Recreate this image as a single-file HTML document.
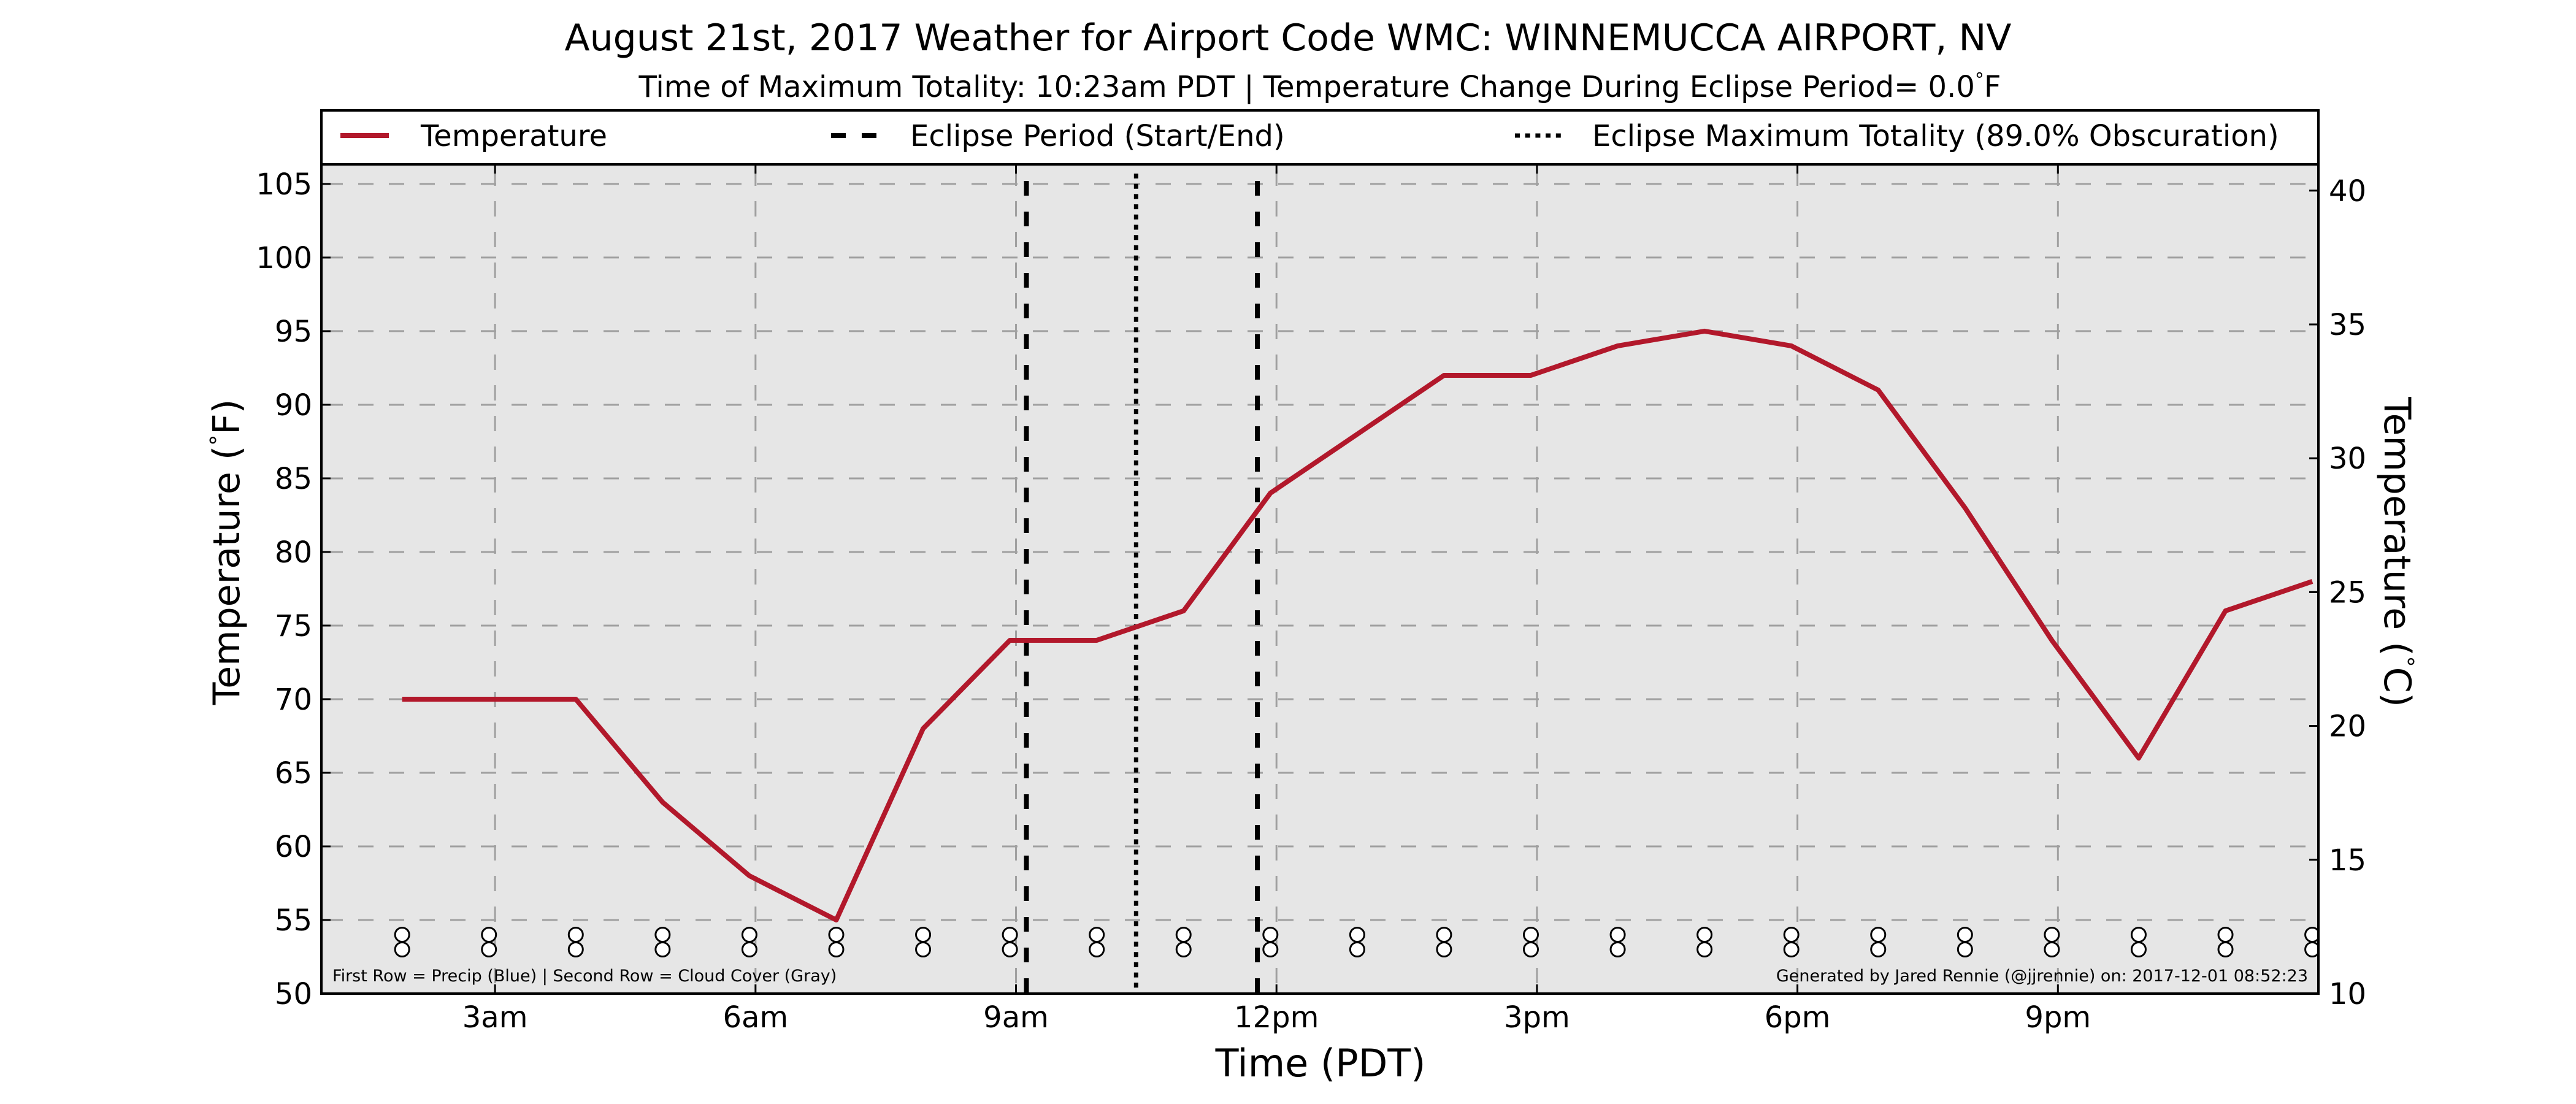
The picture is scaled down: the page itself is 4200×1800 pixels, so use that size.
<!DOCTYPE html>
<html><head><meta charset="utf-8"><style>
html,body{margin:0;padding:0;background:#fff;}
svg{display:block;font-family:"DejaVu Sans","Liberation Sans",sans-serif;}
</style></head><body>
<svg id="chart" width="4200" height="1800" viewBox="0 0 4200 1800" xmlns="http://www.w3.org/2000/svg">
<rect x="0" y="0" width="4200" height="1800" fill="#fff"/>
<text x="2100" y="82" font-size="60" text-anchor="middle">August 21st, 2017 Weather for Airport Code WMC: WINNEMUCCA AIRPORT, NV</text>
<text x="2152" y="158" font-size="48" text-anchor="middle">Time of Maximum Totality: 10:23am PDT | Temperature Change During Eclipse Period= 0.0<tspan font-size="30" dy="-18">°</tspan><tspan dy="18">F</tspan></text>
<rect x="524" y="268" width="3256" height="1352" fill="#e6e6e6"/>
<g id="grid"></g>
<g id="eclipse"></g>
<g id="series"></g>
<g id="markers"></g>
<text x="542" y="1600" font-size="27">First Row = Precip (Blue) | Second Row = Cloud Cover (Gray)</text>
<text x="3763" y="1600" font-size="27" text-anchor="end">Generated by Jared Rennie (@jjrennie) on: 2017-12-01 08:52:23</text>
<rect x="524" y="268" width="3256" height="1352" fill="none" stroke="#000" stroke-width="4"/>
<g id="ticks"></g>
<g>
<rect x="524" y="180" width="3256" height="88" fill="#fff" stroke="#000" stroke-width="4"/>
<line x1="555" y1="221" x2="634" y2="221" stroke="#b2182b" stroke-width="8"/>
<text x="686" y="238" font-size="48">Temperature</text>
<line x1="1355" y1="221" x2="1430" y2="221" stroke="#000" stroke-width="8" stroke-dasharray="24,26"/>
<text x="1484" y="238" font-size="48">Eclipse Period (Start/End)</text>
<line x1="2470" y1="221" x2="2548" y2="221" stroke="#000" stroke-width="7" stroke-dasharray="8,8.7"/>
<text x="2596" y="238" font-size="48">Eclipse Maximum Totality (89.0% Obscuration)</text>
</g>
<text x="2153" y="1755" font-size="62" text-anchor="middle">Time (PDT)</text>
<text transform="translate(390,900) rotate(-90)" font-size="60" text-anchor="middle">Temperature (<tspan font-size="36" dy="-22">°</tspan><tspan dy="22">F)</tspan></text>
<text transform="translate(3888,900) rotate(90)" font-size="60" text-anchor="middle">Temperature (<tspan font-size="36" dy="-22">°</tspan><tspan dy="22">C)</tspan></text>
</svg>
<script>
const hours = [1.93,2.93,3.93,4.93,5.93,6.93,7.93,8.93,9.93,10.93,11.93,12.93,13.93,14.93,15.93,16.93,17.93,18.93,19.93,20.93,21.93,22.93,23.93];
const tempsF = [70,70,70,63,58,55,68,74,74,76,84,88,92,92,94,95,94,91,83,74,66,76,78];
const precipRow = [54,54,54,54,54,54,54,54,54,54,54,54,54,54,54,54,54,54,54,54,54,54,54];
const cloudRow = [53,53,53,53,53,53,53,53,53,53,53,53,53,53,53,53,53,53,53,53,53,53,53];
const xTickHours = [3,6,9,12,15,18,21];
const xTickLabels = ["3am","6am","9am","12pm","3pm","6pm","9pm"];
const yTicksF = [50,55,60,65,70,75,80,85,90,95,100,105];
const yTicksC = [10,15,20,25,30,35,40];
const eclipseStart = 9.12;
const eclipseEnd = 11.78;
const eclipseMax = 10.383;

const L=524,R=3780,T=268,B=1620;
const xMin=1,xMax=24,fMin=50,fMax=106.33,cMin=10,cMax=40.98;
function x(h){return L+(h-xMin)/(xMax-xMin)*(R-L);}
function yF(f){return B-(f-fMin)/(fMax-fMin)*(B-T);}
function yC(c){return B-(c-cMin)/(cMax-cMin)*(B-T);}
const NS="http://www.w3.org/2000/svg";
function mk(tag,attrs,parent){const e=document.createElementNS(NS,tag);for(const k in attrs)e.setAttribute(k,attrs[k]);parent.appendChild(e);return e;}
const grid=document.getElementById('grid'),ticks=document.getElementById('ticks'),ecl=document.getElementById('eclipse'),ser=document.getElementById('series'),mk2=document.getElementById('markers');

yTicksF.forEach((v)=>{
  const yy=yF(v);
  if(v>fMin){
    const g=mk('line',{x1:L,x2:R,y1:yy,y2:yy,stroke:'#a0a0a0','stroke-width':3,'stroke-dasharray':'25,25','stroke-dashoffset':'-10'},grid);
    
    
  }
  const t=mk('line',{x1:L,x2:L+15,y1:yy,y2:yy,stroke:'#000','stroke-width':3},ticks);
  
  
  const lb=mk('text',{x:509,y:yy+17,'font-size':48,'text-anchor':'end'},ticks);
  lb.textContent=v;
  
  
});
yTicksC.forEach((v)=>{
  const yy=yC(v);
  const t=mk('line',{x1:R-15,x2:R,y1:yy,y2:yy,stroke:'#000','stroke-width':3},ticks);
  
  
  const lb=mk('text',{x:3797,y:yy+17,'font-size':48},ticks);
  lb.textContent=v;
  
  
});
xTickHours.forEach((h,i)=>{
  const xx=x(h);
  const g=mk('line',{x1:xx,x2:xx,y1:T,y2:B,stroke:'#a0a0a0','stroke-width':3,'stroke-dasharray':'25,25','stroke-dashoffset':'-10'},grid);
  
  
  const t1=mk('line',{x1:xx,x2:xx,y1:B-15,y2:B,stroke:'#000','stroke-width':3},ticks);
  
  
  const t2=mk('line',{x1:xx,x2:xx,y1:T,y2:T+15,stroke:'#000','stroke-width':3},ticks);
  
  
  const lb=mk('text',{x:xx,y:1675,'font-size':48,'text-anchor':'middle'},ticks);
  lb.textContent=xTickLabels[i];
  
  
});
[eclipseStart,eclipseEnd].forEach((h,i)=>{
  const e=mk('line',{x1:x(h),x2:x(h),y1:T+27,y2:B,stroke:'#000','stroke-width':8,'stroke-dasharray':'24,26'},ecl);
  
  
});
const em=mk('line',{x1:x(eclipseMax),x2:x(eclipseMax),y1:T+15,y2:B,stroke:'#000','stroke-width':7,'stroke-dasharray':'8,8.7'},ecl);



const pts=hours.map((h,i)=>x(h)+','+yF(tempsF[i])).join(' ');
const pl=mk('polyline',{points:pts,fill:'none',stroke:'#b2182b','stroke-width':8,'stroke-linejoin':'round'},ser);



const clip=mk('clipPath',{id:'pc'},document.getElementById('chart'));
mk('rect',{x:L,y:T,width:R-L,height:B-T},clip);
mk2.setAttribute('clip-path','url(#pc)');
hours.forEach((h,i)=>{
  const a=mk('ellipse',{cx:x(h),cy:yF(precipRow[i]),rx:11.5,ry:11.5,fill:'#fff',stroke:'#000','stroke-width':3},mk2);
  
  
  const b=mk('ellipse',{cx:x(h),cy:yF(cloudRow[i]),rx:11.5,ry:11.5,fill:'#fff',stroke:'#000','stroke-width':3},mk2);
  
  
});
</script>
</body></html>
